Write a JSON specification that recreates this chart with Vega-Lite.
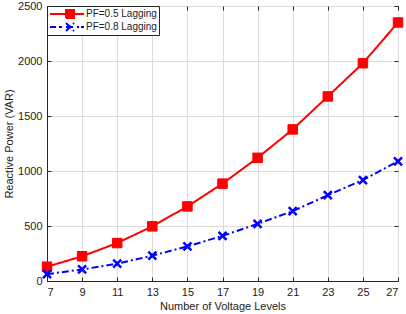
{
  "$schema": "https://vega.github.io/schema/vega-lite/v6.json",
  "width": 351,
  "height": 275,
  "autosize": "none",
  "padding": {"left": 47, "top": 6, "right": 8, "bottom": 33},
  "background": "white",
  "config": {
    "font": "Liberation Sans",
    "view": {"stroke": "#262626", "strokeWidth": 1},
    "axis": {
      "labelFont": "Liberation Sans",
      "labelFontSize": 11,
      "labelColor": "#222222",
      "titleFont": "Liberation Sans",
      "titleFontSize": 11,
      "titleFontWeight": "normal",
      "titleColor": "#222222",
      "gridColor": "#dcdcdc",
      "gridWidth": 1,
      "domainColor": "#262626",
      "tickColor": "#262626",
      "ticks": true,
      "tickSize": -4,
      "labelPadding": 9
    }
  },
  "data": {
    "values": [
      {"n": 7, "series": "PF=0.5 Lagging", "q": 130},
      {"n": 9, "series": "PF=0.5 Lagging", "q": 225},
      {"n": 11, "series": "PF=0.5 Lagging", "q": 345},
      {"n": 13, "series": "PF=0.5 Lagging", "q": 497},
      {"n": 15, "series": "PF=0.5 Lagging", "q": 678},
      {"n": 17, "series": "PF=0.5 Lagging", "q": 885},
      {"n": 19, "series": "PF=0.5 Lagging", "q": 1120},
      {"n": 21, "series": "PF=0.5 Lagging", "q": 1378},
      {"n": 23, "series": "PF=0.5 Lagging", "q": 1678},
      {"n": 25, "series": "PF=0.5 Lagging", "q": 1980},
      {"n": 27, "series": "PF=0.5 Lagging", "q": 2350},
      {"n": 7, "series": "PF=0.8 Lagging", "q": 62},
      {"n": 9, "series": "PF=0.8 Lagging", "q": 105},
      {"n": 11, "series": "PF=0.8 Lagging", "q": 158},
      {"n": 13, "series": "PF=0.8 Lagging", "q": 230},
      {"n": 15, "series": "PF=0.8 Lagging", "q": 315},
      {"n": 17, "series": "PF=0.8 Lagging", "q": 410},
      {"n": 19, "series": "PF=0.8 Lagging", "q": 520},
      {"n": 21, "series": "PF=0.8 Lagging", "q": 635},
      {"n": 23, "series": "PF=0.8 Lagging", "q": 780},
      {"n": 25, "series": "PF=0.8 Lagging", "q": 918},
      {"n": 27, "series": "PF=0.8 Lagging", "q": 1088}
    ]
  },
  "resolve": {"axis": {"x": "independent", "y": "independent"}},
  "layer": [
    {
      "mark": {"type": "line", "strokeWidth": 2},
      "encoding": {
        "x": {
          "field": "n",
          "type": "quantitative",
          "scale": {"domain": [7, 27], "nice": false, "zero": false},
          "axis": {
            "title": "Number of Voltage Levels",
            "values": [7, 9, 11, 13, 15, 17, 19, 21, 23, 25, 27],
            "grid": true,
            "titlePadding": 3
          }
        },
        "y": {
          "field": "q",
          "type": "quantitative",
          "scale": {"domain": [0, 2500], "nice": false},
          "axis": {
            "title": "Reactive Power (VAR)",
            "values": [0, 500, 1000, 1500, 2000, 2500],
            "format": "d",
            "grid": true,
            "titlePadding": 3
          }
        },
        "color": {
          "field": "series",
          "type": "nominal",
          "scale": {"domain": ["PF=0.5 Lagging", "PF=0.8 Lagging"], "range": ["#ff0000", "#0000ff"]},
          "legend": {
            "title": null,
            "orient": "top-left",
            "offset": 0,
            "padding": 2,
            "strokeColor": "#262626",
            "fillColor": "white",
            "cornerRadius": 0,
            "labelFont": "Liberation Sans",
            "labelFontSize": 10,
            "labelColor": "#222222",
            "labelOffset": 23,
            "rowPadding": 1,
            "clipHeight": 12,
            "symbolSize": 144,
            "symbolStrokeWidth": 2,
            "encode": {
              "symbols": {
                "update": {
                  "shape": {"signal": "datum.value === 'PF=0.5 Lagging' ? 'M-1,0H4.67M1.67,-0.67H3V0.67H1.67Z' : 'M-1,0H0M0.5,0H1M1.67,-0.67L3,0.67M1.67,0.67L3,-0.67M1.67,0H3M3.5,0H3.83M4.17,0H4.67'"},
                  "fill": {"signal": "datum.value === 'PF=0.5 Lagging' ? '#ff0000' : 'transparent'"},
                  "strokeDash": {"value": []}
                }
              }
            }
          }
        },
        "strokeDash": {
          "field": "series",
          "type": "nominal",
          "scale": {"domain": ["PF=0.5 Lagging", "PF=0.8 Lagging"], "range": [[1, 0], [7, 3, 2, 3]]},
          "legend": null
        }
      }
    },
    {
      "transform": [{"filter": "datum.series === 'PF=0.5 Lagging'"}],
      "mark": {"type": "point", "shape": "square", "filled": true, "size": 90, "color": "#ff0000", "stroke": "#ff0000", "strokeWidth": 1, "opacity": 1},
      "encoding": {
        "x": {
          "field": "n",
          "type": "quantitative",
          "axis": {"orient": "top", "values": [7, 9, 11, 13, 15, 17, 19, 21, 23, 25, 27], "labels": false, "title": null, "grid": false, "domain": false}
        },
        "y": {
          "field": "q",
          "type": "quantitative",
          "axis": {"orient": "right", "values": [0, 500, 1000, 1500, 2000, 2500], "labels": false, "title": null, "grid": false, "domain": false}
        }
      }
    },
    {
      "transform": [{"filter": "datum.series === 'PF=0.8 Lagging'"}],
      "mark": {"type": "point", "shape": "M-1,-1L1,1M-1,1L1,-1", "filled": false, "size": 64, "stroke": "#0000ff", "strokeWidth": 2.5, "opacity": 1},
      "encoding": {
        "x": {"field": "n", "type": "quantitative", "axis": null},
        "y": {"field": "q", "type": "quantitative", "axis": null}
      }
    }
  ]
}
